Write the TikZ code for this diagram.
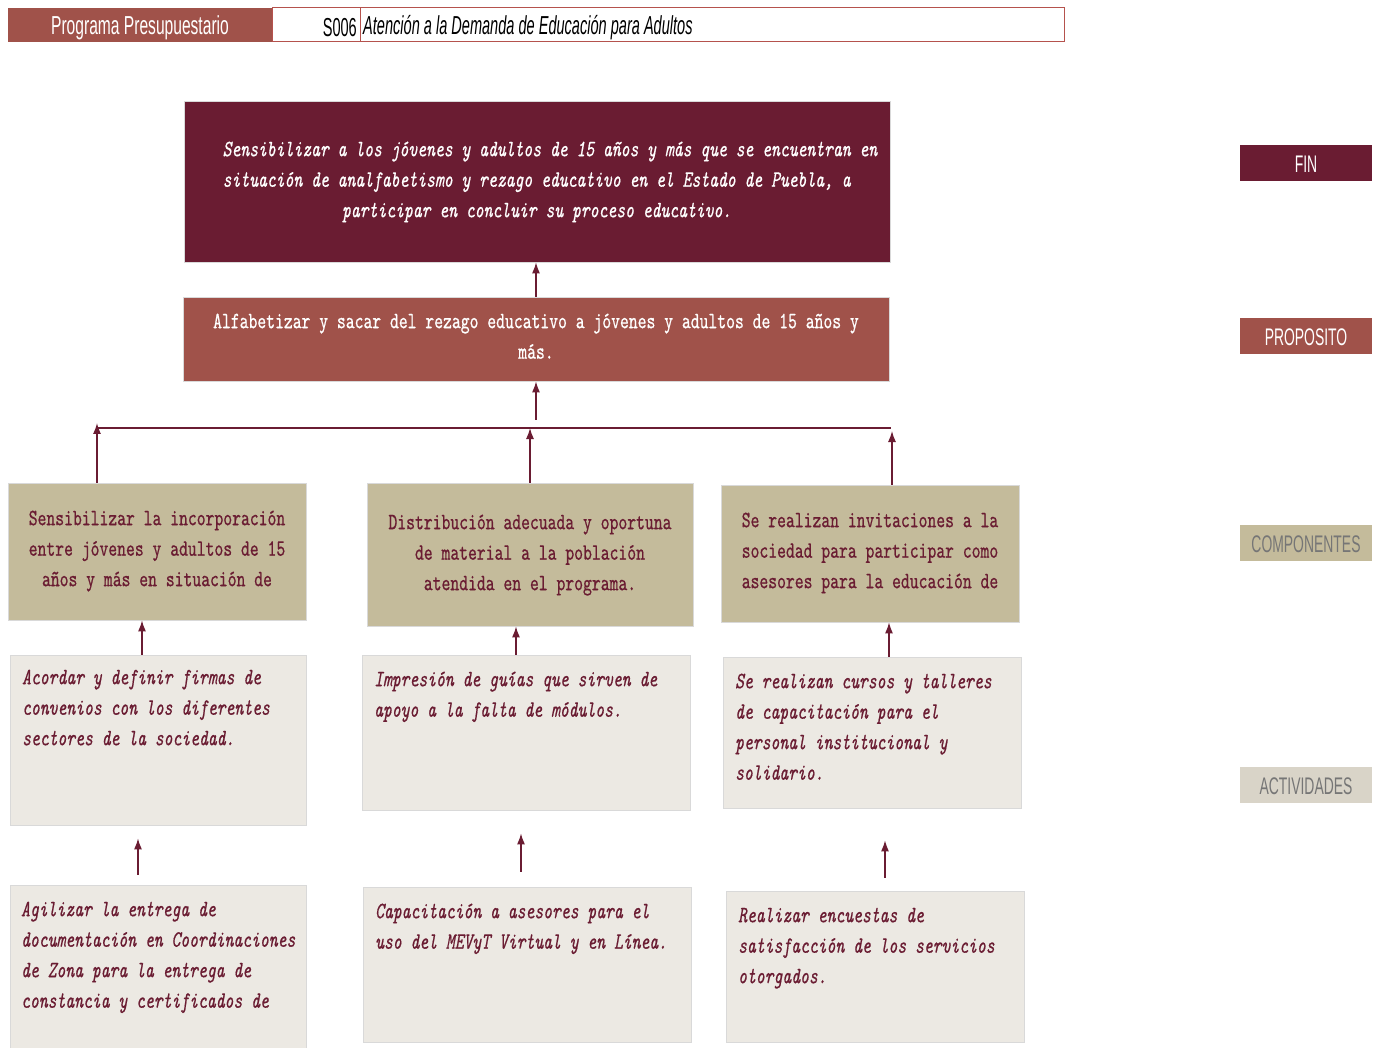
\documentclass[tikz,border=0pt]{standalone}
\usepackage{fontspec}
\usetikzlibrary{arrows.meta}
\newfontfamily\tw{lmmono10-regular.otf}[ItalicFont=lmmono10-italic.otf,FakeStretch=0.72,FakeBold=0.6]
\newfontfamily\narrowA{Liberation Sans}[FakeStretch=0.6]
\newfontfamily\narrowB{Liberation Sans}[FakeStretch=0.56]
\newfontfamily\narrowC{Liberation Sans}[FakeStretch=0.58]
\definecolor{maroon}{HTML}{6A1C32}
\definecolor{rust}{HTML}{A0524A}
\definecolor{tanc}{HTML}{C4BB9B}
\definecolor{pale}{HTML}{ECE9E3}
\definecolor{paletag}{HTML}{D9D4C8}
\definecolor{tagtext}{HTML}{767676}
\definecolor{hdrline}{HTML}{B5524D}
\newcommand{\fs}{\rule{0pt}{18pt}}
\tikzset{
  box/.style={rectangle, draw=black!15, line width=0.8pt, inner sep=0pt},
  txt/.style={inner sep=0pt, font=\tw\fontsize{23.4}{30.5}\selectfont},
  ctxt/.style={txt, anchor=north, align=center},
  ltxt/.style={txt, anchor=north west, align=left, text=maroon, font=\tw\itshape\fontsize{23.4}{30.5}\selectfont},
  tag/.style={rectangle, inner sep=0pt, minimum width=132pt, minimum height=36pt, font=\narrowC\fontsize{24}{26}\selectfont},
  arr/.style={draw=maroon, line width=1.3pt, -{Latex[length=11pt,width=8pt]}},
}
\begin{document}
\begin{tikzpicture}[x=1pt,y=-1pt]
\useasboundingbox (0,0) rectangle (1379,1048);
% header
\node[rectangle, fill=rust, minimum width=264pt, minimum height=34pt, inner sep=0pt] (hdr) at (140,25) {};
\node[text=white, inner sep=0pt, font=\narrowA\fontsize{26}{28}\selectfont] (hdrt) at (140,27.5) {Programa Presupuestario};
\node[rectangle, draw=hdrline, line width=1pt, minimum width=792pt, minimum height=34pt, inner sep=0pt] (hbox) at (668,25) {};
\coordinate (sepx) at (360,0);
\draw[hdrline, line width=0.8pt] (hbox.north -| sepx) -- (hbox.south -| sepx);
\node[anchor=east, inner sep=0pt, font=\narrowB\fontsize{26}{28}\selectfont] (code) at (357,27.5) {S006};
\node[anchor=west, inner sep=0pt, font=\narrowB\itshape\fontsize{26}{28}\selectfont] (prog) at (363,27.5) {Atención a la Demanda de Educación para Adultos};

% fin & proposito
\node[box, fill=maroon, minimum width=706pt, minimum height=161pt] (fin) at (537,181.5) {};
\node[ctxt, text=white, font=\tw\itshape\fontsize{23.4}{30.5}\selectfont] (fint) at (550,138) {\fs Sensibilizar a los jóvenes y adultos de 15 años y más que se encuentran en\\situación de analfabetismo y rezago educativo en el Estado de Puebla, a\phantom{aaa}\\participar en concluir su proceso educativo.\phantom{aaa}};
\node[box, fill=rust, minimum width=706pt, minimum height=84pt] (prop) at (536,339) {};
\node[ctxt, text=white] (propt) at (536,310) {\fs Alfabetizar y sacar del rezago educativo a jóvenes y adultos de 15 años y\\más.};

% componentes
\node[box, fill=tanc, minimum width=298pt, minimum height=137pt] (c1) at (157,551.5) {};
\node[box, fill=tanc, minimum width=326pt, minimum height=143pt] (c2) at (530,554.5) {};
\node[box, fill=tanc, minimum width=298pt, minimum height=137pt] (c3) at (870,553.5) {};
\node[ctxt, text=maroon] (c1t) at (157,507) {\fs Sensibilizar la incorporación\\entre jóvenes y adultos de 15\\años y más en situación de};
\node[ctxt, text=maroon] (c2t) at (530,511) {\fs Distribución adecuada y oportuna\\de material a la población\\atendida en el programa.};
\node[ctxt, text=maroon] (c3t) at (870,509) {\fs Se realizan invitaciones a la\\sociedad para participar como\\asesores para la educación de};

% actividades fila 1
\node[box, fill=pale, minimum width=296pt, minimum height=170pt] (a1) at (158,740) {};
\node[box, fill=pale, minimum width=328pt, minimum height=155pt] (a2) at (526,732.5) {};
\node[box, fill=pale, minimum width=298pt, minimum height=151pt] (a3) at (872,732.5) {};
\node[ltxt] (a1t) at (22,666) {\fs Acordar y definir firmas de\\convenios con los diferentes\\sectores de la sociedad.};
\node[ltxt] (a2t) at (374,668) {\fs Impresión de guías que sirven de\\apoyo a la falta de módulos.};
\node[ltxt] (a3t) at (735,670) {\fs Se realizan cursos y talleres\\de capacitación para el\\personal institucional y\\solidario.};

% actividades fila 2
\node[box, fill=pale, minimum width=296pt, minimum height=163pt] (b1) at (158,966.5) {};
\node[box, fill=pale, minimum width=328pt, minimum height=155pt] (b2) at (527,964.5) {};
\node[box, fill=pale, minimum width=298pt, minimum height=151pt] (b3) at (875,966.5) {};
\node[ltxt] (b1t) at (21,898) {\fs Agilizar la entrega de\\documentación en Coordinaciones\\de Zona para la entrega de\\constancia y certificados de};
\node[ltxt] (b2t) at (375,900) {\fs Capacitación a asesores para el\\uso del MEVyT Virtual y en Línea.};
\node[ltxt] (b3t) at (738,904) {\fs Realizar encuestas de\\satisfacción de los servicios\\otorgados.};

% etiquetas de nivel
\node[tag, fill=maroon, text=white] (tfin) at (1306,163) {};
\node[tag, fill=rust, text=white] (tprop) at (1306,336) {};
\node[tag, fill=tanc, text=tagtext] (tcomp) at (1306,543) {};
\node[tag, fill=paletag, text=tagtext] (tact) at (1306,785) {};
\node[inner sep=0pt, text=white, font=\narrowC\fontsize{24}{26}\selectfont] (tfint) at ([yshift=-1.5pt]tfin.center) {FIN};
\node[inner sep=0pt, text=white, font=\narrowC\fontsize{24}{26}\selectfont] (tpropt) at ([yshift=-1.5pt]tprop.center) {PROPOSITO};
\node[inner sep=0pt, text=tagtext, font=\narrowC\fontsize{24}{26}\selectfont] (tcompt) at ([yshift=-1.5pt]tcomp.center) {COMPONENTES};
\node[inner sep=0pt, text=tagtext, font=\narrowC\fontsize{24}{26}\selectfont] (tactt) at ([yshift=-1.5pt]tact.center) {ACTIVIDADES};

% conectores
\coordinate (busL) at (97,428);
\coordinate (busR) at (891,428);
\coordinate (busM) at (536,428);
\coordinate (tipL) at (97,423);
\coordinate (tipM) at (530,428);
\coordinate (tipR) at (892,431);
\draw[maroon, line width=1.5pt] (busL) -- (busR);
\draw[arr] (prop.north) -- (prop.north |- fin.south);
\draw[arr] ([yshift=8pt]busM) -- (busM |- prop.south);
\draw[arr] (c1.north -| tipL) -- (tipL);
\draw[arr] (c2.north -| tipM) -- (tipM);
\draw[arr] (c3.north -| tipR) -- (tipR);

\coordinate (x1) at (142,0);
\coordinate (x2) at (516,0);
\coordinate (x3) at (889,0);
\draw[arr] (a1.north -| x1) -- (c1.south -| x1);
\draw[arr] (a2.north -| x2) -- (c2.south -| x2);
\draw[arr] (a3.north -| x3) -- (c3.south -| x3);

\coordinate (y1) at (138,0);
\coordinate (y2) at (521,0);
\coordinate (y3) at (885,0);
\draw[arr, shorten <=10pt, shorten >=13pt] (b1.north -| y1) -- (a1.south -| y1);
\draw[arr, shorten <=15pt, shorten >=23pt] (b2.north -| y2) -- (a2.south -| y2);
\draw[arr, shorten <=13pt, shorten >=32pt] (b3.north -| y3) -- (a3.south -| y3);
\end{tikzpicture}
\end{document}
